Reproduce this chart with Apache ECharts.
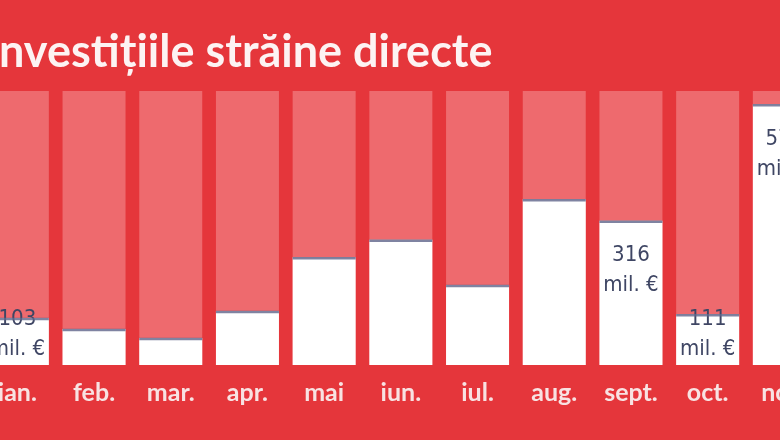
<!DOCTYPE html>
<html>
<head>
<meta charset="utf-8">
<script src="https://cdn.jsdelivr.net/npm/echarts@6/dist/echarts.min.js"></script>
<style>
  html, body { margin: 0; padding: 0; background: #e5363b; overflow: hidden; width: 780px; height: 440px; }
  #chart { position: absolute; left: -21px; top: 0; width: 880px; height: 440px; }
</style>
</head>
<body>
<div id="chart"></div>
<script>
// ---- data ----
const titleText = 'Investițiile străine directe';
const categories = ['ian.', 'feb.', 'mar.', 'apr.', 'mai', 'iun.', 'iul.', 'aug.', 'sept.', 'oct.', 'nov.'];
const values = [103, 79, 59, 118, 236, 274, 175, 363, 316, 111, 571];
const labeledMonths = ['ian.', 'sept.', 'oct.', 'nov.'];
const unitText = 'mil. €';
const axisMax = 600;

// ---- chart ----
const chart = echarts.init(document.getElementById('chart'), null, { renderer: 'canvas' });
const gridTop = 91, gridBottom = 75;
const plotH = 440 - gridTop - gridBottom;
const numFont = '"Liberation Sans Narrow", "DejaVu Sans Condensed", "Open Sans", sans-serif';

const barData = values.map(function (v, i) {
  const item = { value: v };
  if (labeledMonths.indexOf(categories[i]) >= 0) {
    const hPx = v / axisMax * plotH;
    const tall = hPx > 100;
    item.label = {
      show: true,
      position: tall ? 'insideTop' : 'insideBottom',
      distance: tall ? 20 : 1,
      formatter: function (p) { return p.value + '\n' + unitText; },
      color: '#3f4664',
      fontFamily: numFont,
      fontSize: 22,
      lineHeight: 30
    };
  }
  return item;
});

chart.setOption({
  backgroundColor: '#e5363b',
  animation: false,
  title: {
    text: titleText,
    left: 7,
    top: 30,
    padding: 0,
    textStyle: {
      color: '#fdf3f3',
      fontFamily: 'Lato, "Open Sans", sans-serif',
      fontWeight: 'bold',
      fontSize: 45
    }
  },
  grid: { left: 0, width: 843.7, top: gridTop, bottom: gridBottom, containLabel: false },
  xAxis: {
    type: 'category',
    data: categories,
    axisLine: { show: false },
    axisTick: { show: false },
    axisLabel: {
      color: '#f8e2e2',
      fontFamily: 'Lato, "Open Sans", sans-serif',
      fontWeight: 'bold',
      fontSize: 25,
      margin: 15
    }
  },
  yAxis: {
    type: 'value',
    min: 0,
    max: axisMax,
    show: false,
    splitLine: { show: false }
  },
  series: [
    {
      type: 'bar',
      data: barData,
      barWidth: 63,
      showBackground: true,
      backgroundStyle: { color: '#ee6a6e' },
      itemStyle: { color: '#ffffff' },
      z: 2
    },
    {
      type: 'scatter',
      data: values,
      symbol: 'rect',
      symbolSize: [63, 2.5],
      symbolOffset: [0, 1],
      itemStyle: { color: '#5f6489' },
      silent: true,
      z: 3
    }
  ]
});
</script>
</body>
</html>
